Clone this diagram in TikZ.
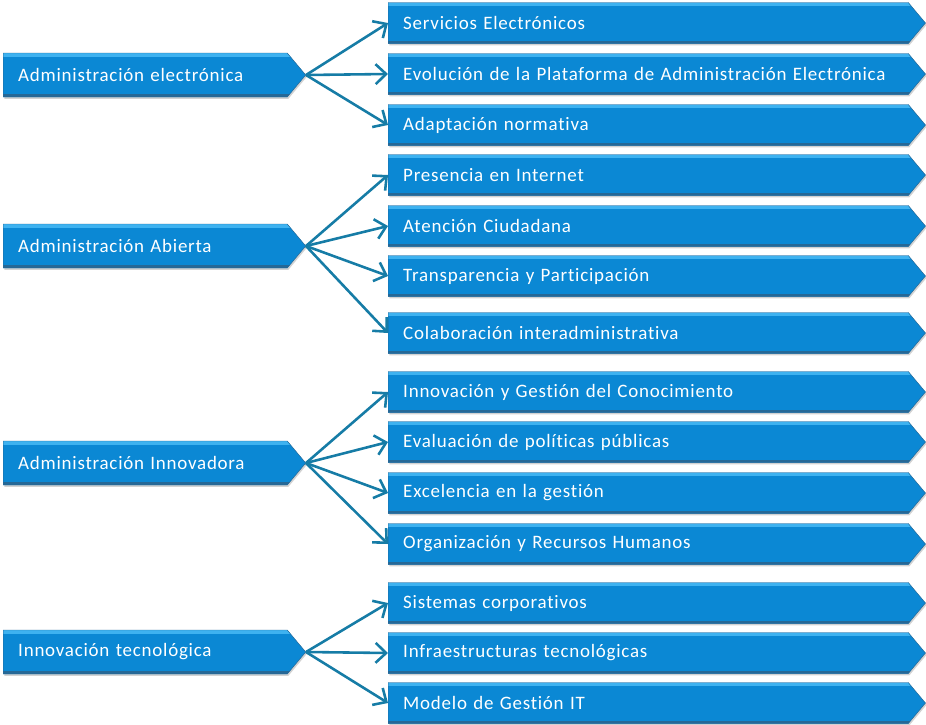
\documentclass[tikz,border=0pt]{standalone}
\usepackage{fontspec}
\setmainfont{Carlito}[LetterSpace=4,Ligatures=NoCommon]
\usetikzlibrary{shapes.symbols,arrows.meta,shadows}
\definecolor{boxbody}{RGB}{11,136,212}
\definecolor{boxtop}{RGB}{62,178,240}
\definecolor{boxbottom}{RGB}{38,104,150}
\definecolor{linkcol}{RGB}{22,124,166}
\begin{document}
\begin{tikzpicture} [x=0.03cm,y=-0.03cm,
	bar/.style={shape=signal,signal to=east,signal pointer angle=100,anchor=west,
		fill=boxbody,draw=boxbottom,line width=0.4pt,inner xsep=0.45cm,inner ysep=0pt,
		text=white,align=left,font=\fontsize{16.2}{18}\selectfont,
		drop shadow={shadow xshift=1pt,shadow yshift=-1.5pt,fill=black!35},
		path picture={\fill[boxtop] (path picture bounding box.north west) rectangle ([yshift=-3pt]path picture bounding box.north east);
			\fill[boxbottom] ([yshift=2.5pt]path picture bounding box.south west) rectangle (path picture bounding box.south east);}},
	topic/.style={bar,text width=7.62cm,minimum height=1.32cm},
	item/.style={bar,text width=14.7cm,minimum height=1.23cm},
	link/.style={draw=linkcol,line width=2.2pt,-{Straight Barb[length=9pt,width=17pt,line width=2.2pt]}}]
	\useasboundingbox (0,0) rectangle (926,724);

	% left column
	\node (electronica) at (3,75)[topic] {Administración electrónica};
	\node (abierta) at (3,246)[topic] {Administración Abierta};
	\node (innovadora) at (3,463)[topic] {Administración Innovadora};
	\node (tecnologica) at (3,652)[topic] {Innovación tecnológica};

	% right column
	\node (servicios) at (388,23)[item] {Servicios Electrónicos};
	\node (evolucion) at (388,74)[item] {Evolución de la Plataforma de Administración Electrónica};
	\node (adaptacion) at (388,125)[item] {Adaptación normativa};
	\node (presencia) at (388,175)[item] {Presencia en Internet};
	\node (atencion) at (388,226)[item] {Atención Ciudadana};
	\node (transparencia) at (388,276)[item] {Transparencia y Participación};
	\node (colaboracion) at (388,333)[item] {Colaboración interadministrativa};
	\node (conocimiento) at (388,392)[item] {Innovación y Gestión del Conocimiento};
	\node (evaluacion) at (388,442)[item] {Evaluación de políticas públicas};
	\node (excelencia) at (388,493)[item] {Excelencia en la gestión};
	\node (organizacion) at (388,544)[item] {Organización y Recursos Humanos};
	\node (sistemas) at (388,603)[item] {Sistemas corporativos};
	\node (infraestructuras) at (388,653)[item] {Infraestructuras tecnológicas};
	\node (modelo) at (388,703)[item] {Modelo de Gestión IT};

	% links
	\foreach \dst in {servicios,evolucion,adaptacion}
		\draw[link] (electronica.east) -- (\dst.west);
	\foreach \dst in {presencia,atencion,transparencia,colaboracion}
		\draw[link] (abierta.east) -- (\dst.west);
	\foreach \dst in {conocimiento,evaluacion,excelencia,organizacion}
		\draw[link] (innovadora.east) -- (\dst.west);
	\foreach \dst in {sistemas,infraestructuras,modelo}
		\draw[link] (tecnologica.east) -- (\dst.west);
\end{tikzpicture}
\end{document}
